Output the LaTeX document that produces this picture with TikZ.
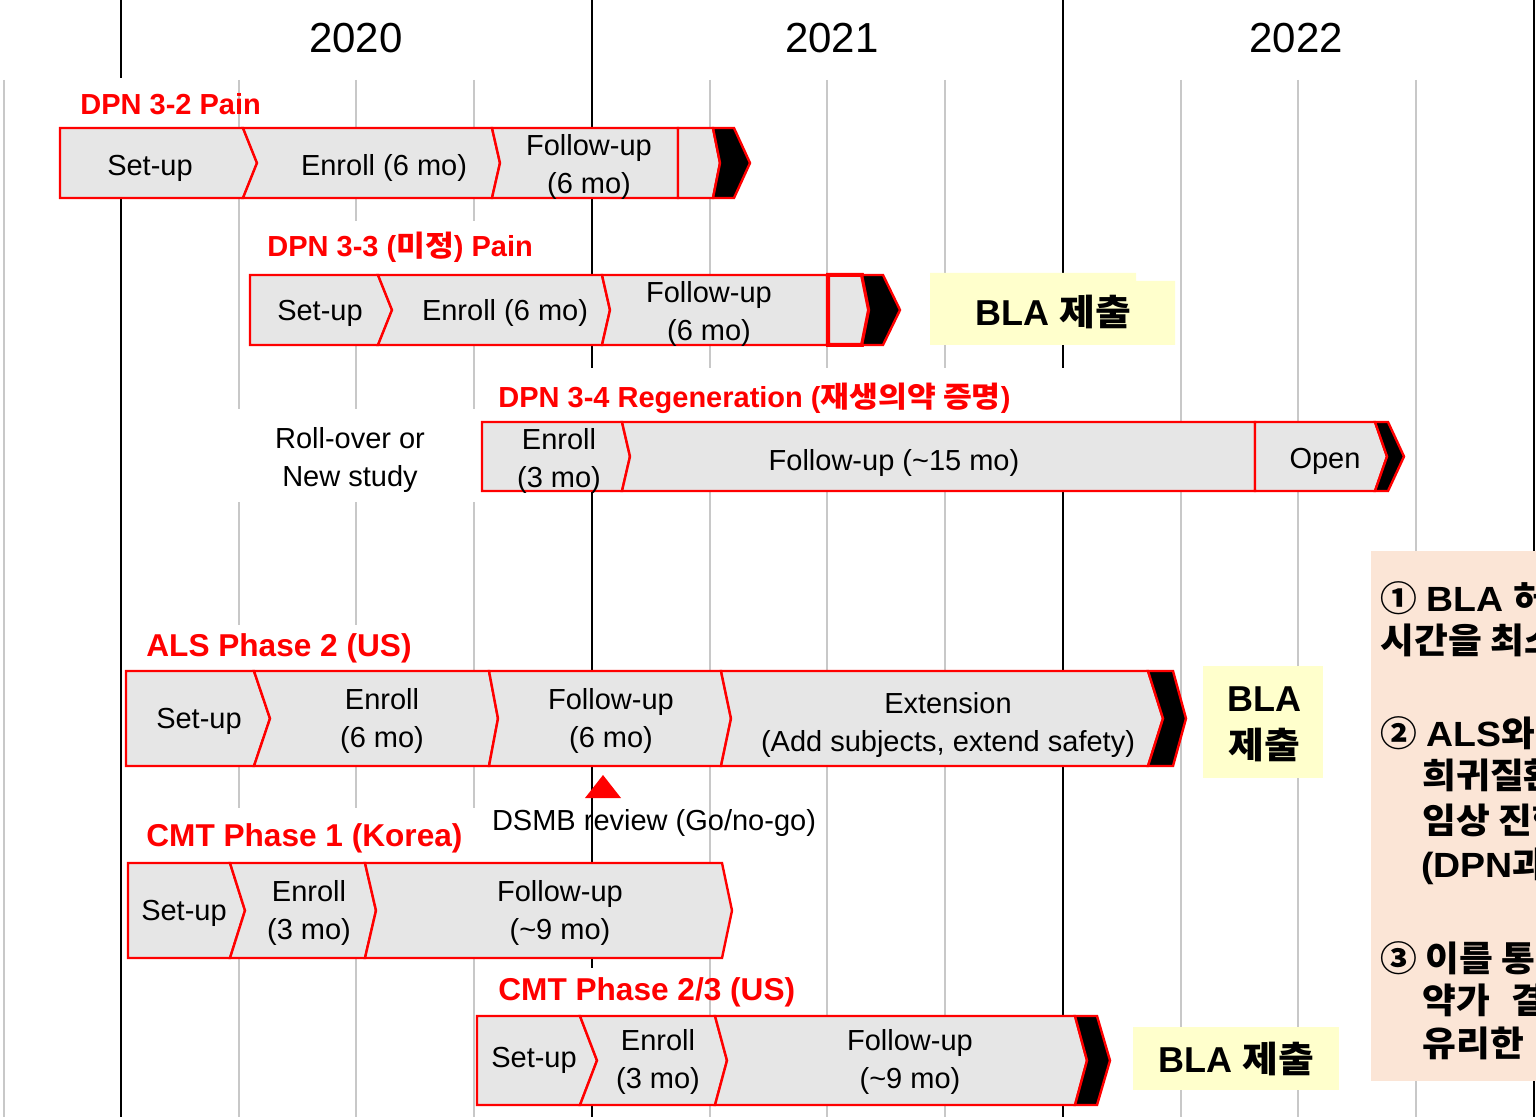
\documentclass[tikz,border=0pt]{standalone}
\usepackage{fontspec}
\setmainfont{Liberation Sans}
\newfontfamily\kr{Noto Sans CJK KR}[FakeStretch=1.08]
\newfontfamily\krn{Noto Sans CJK KR}[FakeStretch=1.05]
\newfontfamily\notelat{Liberation Sans}[FakeStretch=1.07]
\definecolor{barfill}{HTML}{E6E6E6}
\definecolor{gridgray}{HTML}{C8C8C8}
\definecolor{blayellow}{HTML}{FFFFCC}
\definecolor{peach}{HTML}{FBE5D6}
\definecolor{barred}{HTML}{FF0000}
% \seg[style]{T}{M}{B}{xl}{dl}{xr}{dr}
\newcommand\seg[8][segbox]{\draw[#1] (#5,#2) -- (#7,#2) -- ({#7+#8},#3) -- (#7,#4) -- (#5,#4) -- ({#5+#6},#3) -- cycle;}
\begin{document}
\begin{tikzpicture}[x=0.5pt,y=-0.5pt,
  segbox/.style={fill=barfill,draw=barred,line width=1.2pt,line join=miter},
  thickbox/.style={fill=barfill,draw=barred,line width=2pt,line join=miter},
  blackbox/.style={fill=black,draw=barred,line width=1.2pt,line join=miter},
  gridline/.style={draw=gridgray,line width=0.6pt},
  yearline/.style={draw=black,line width=0.7pt},
  mask/.style={fill=white,draw=none},
  txt/.style={font=\fontsize{14.5}{18.7}\selectfont,align=center,inner sep=0pt,yshift=-1.5pt},
  lbl/.style={font=\fontsize{14.5}{17}\selectfont\bfseries,text=barred,anchor=west,inner sep=0pt},
  lblbig/.style={font=\fontsize{15.8}{18}\selectfont\bfseries,text=barred,anchor=west,inner sep=0pt},
  year/.style={font=\fontsize{21}{24}\selectfont,inner sep=0pt},
  blabox/.style={fill=blayellow,draw=none},
  blatxt/.style={font=\fontsize{18}{23.5}\selectfont\bfseries,align=center,inner sep=0pt},
  note/.style={font=\fontsize{17.5}{21}\selectfont\bfseries,anchor=west,inner sep=0pt}
]
\useasboundingbox (0,0) rectangle (1536,1117);
\clip (0,0) rectangle (1536,1117);
\fill[white] (0,0) rectangle (1536,1117);

% grid
\foreach \gx in {4,239,356,474,710,827,945,1181,1298,1416}
  \draw[gridline] (\gx,80) -- (\gx,1117);
\draw[yearline] (121,0) -- (121,1117);
\foreach \gx in {592,1063,1534}
  \draw[yearline] (\gx,0) -- (\gx,1117);

% label backgrounds
\fill[mask] (66,78) rectangle (230,127);
\fill[mask] (250,221) rectangle (545,274);
\fill[mask] (487,368) rectangle (1130,421);
\fill[mask] (228,409) rectangle (479,502);
\fill[mask] (138,625) rectangle (425,670);
\fill[mask] (138,808) rectangle (480,862);
\fill[mask] (488,968) rectangle (700,1015);

% year labels
\node[year] (y20) at (356,38) {2020};
\node[year] (y21) at (832,38) {2021};
\node[year] (y22) at (1296,38) {2022};

% Row 1: DPN 3-2
\node[lbl] (l1) at (80,104) {DPN 3-2 Pain};
\seg{128}{163}{198}{60}{0}{243}{14}
\seg{128}{163}{198}{243}{14}{492}{8}
\seg{128}{163}{198}{492}{8}{678}{0}
\seg{128}{163}{198}{678}{0}{713}{7}
\seg[blackbox]{128}{163}{198}{713}{7}{734}{16}
\node[txt] (r1a) at (150,165) {Set-up};
\node[txt] (r1b) at (384,165) {Enroll (6 mo)};
\node[txt] (r1c) at (589,164) {Follow-up\\(6 mo)};

% Row 2: DPN 3-3
\node[lbl] (l2) at (267,247) {DPN 3-3 ({\kr 미정}) Pain};
\seg{275}{310}{345}{250}{0}{378}{14}
\seg{275}{310}{345}{378}{14}{602}{8}
\seg{275}{310}{345}{602}{8}{827}{0}
\seg[thickbox]{275}{310}{345}{828}{0}{862}{7}
\seg[blackbox]{275}{310}{345}{862}{7}{883}{17}
\node[txt] (r2a) at (320,310) {Set-up};
\node[txt] (r2b) at (505,310) {Enroll (6 mo)};
\node[txt] (r2c) at (709,311) {Follow-up\\(6 mo)};
\fill[blabox] (930,273) -- (1136,273) -- (1136,281) -- (1175,281) -- (1175,345) -- (930,345) -- cycle;
\node[blatxt] (b2) at (1053,312) {BLA {\kr 제출}};

% Row 3: DPN 3-4
\node[lbl] (l3) at (498,398) {DPN 3-4 Regeneration ({\kr 재생의약 증명})};
\node[txt] (ro) at (350,457) {Roll-over or\\New study};
\seg{422}{456.5}{491}{482}{0}{622}{8}
\seg{422}{456.5}{491}{622}{8}{1255}{0}
\seg{422}{456.5}{491}{1255}{0}{1375}{12}
\seg[blackbox]{422}{456.5}{491}{1375}{12}{1388}{16}
\node[txt] (r3a) at (559,458) {Enroll\\(3 mo)};
\node[txt] (r3b) at (894,460) {Follow-up (\textasciitilde15 mo)};
\node[txt] (r3c) at (1325,458) {Open};

% Row 4: ALS Phase 2
\node[lblbig] (l4) at (146,648) {ALS Phase 2 (US)};
\seg{671}{718.5}{766}{126}{0}{254}{16}
\seg{671}{718.5}{766}{254}{16}{489}{9}
\seg{671}{718.5}{766}{489}{9}{721}{10}
\seg{671}{718.5}{766}{721}{10}{1148}{15}
\seg[blackbox]{671}{718.5}{766}{1148}{15}{1173}{13}
\node[txt] (r4a) at (199,718) {Set-up};
\node[txt] (r4b) at (382,718) {Enroll\\(6 mo)};
\node[txt] (r4c) at (611,718) {Follow-up\\(6 mo)};
\node[txt] (r4d) at (948,722) {Extension\\(Add subjects, extend safety)};
\fill[blabox] (1203,666) rectangle (1323,778);
\node[blatxt] (b4) at (1264,724) {BLA\\{\kr 제출}};
\fill[barred] (603,775) -- (621,798) -- (585,798) -- cycle;
\node[txt] (dsmb) at (654,820) {DSMB review (Go/no-go)};

% Row 5: CMT Phase 1
\node[lblbig] (l5) at (146,838) {CMT Phase 1 (Korea)};
\seg{863}{910.5}{958}{128}{0}{230}{15}
\seg{863}{910.5}{958}{230}{15}{365}{11}
\seg{863}{910.5}{958}{365}{11}{722}{10}
\node[txt] (r5a) at (184,910) {Set-up};
\node[txt] (r5b) at (309,910) {Enroll\\(3 mo)};
\node[txt] (r5c) at (560,910) {Follow-up\\(\textasciitilde9 mo)};

% Row 6: CMT Phase 2/3
\node[lblbig] (l6) at (498,992) {CMT Phase 2/3 (US)};
\seg{1016}{1060.5}{1105}{477}{0}{580}{17}
\seg{1016}{1060.5}{1105}{580}{17}{715}{12}
\seg{1016}{1060.5}{1105}{715}{12}{1075}{12}
\seg[blackbox]{1016}{1060.5}{1105}{1075}{12}{1097}{13}
\node[txt] (r6a) at (534,1057) {Set-up};
\node[txt] (r6b) at (658,1059) {Enroll\\(3 mo)};
\node[txt] (r6c) at (910,1059) {Follow-up\\(\textasciitilde9 mo)};
\fill[blabox] (1133,1027) rectangle (1339,1090);
\node[blatxt] (b6) at (1236,1059) {BLA {\kr 제출}};

% right note box
\fill[peach] (1371,551) rectangle (1545,1081);
\node[note] (n1) at (1380,598) {{\krn ①} {\notelat BLA} {\krn 허가}};
\node[note] (n2) at (1380,640) {\krn 시간을 최소화};
\node[note] (n3) at (1380,733) {{\krn ②} {\notelat ALS}{\krn 와}};
\node[note] (n4) at (1422,775) {\krn 희귀질환};
\node[note] (n5) at (1422,820) {\krn 임상 진행};
\node[note] (n6) at (1421,866) {{\notelat (DPN}{\krn 과}};
\node[note] (n7) at (1380,958) {\krn ③ 이를 통해};
\node[note] (n8) at (1422,1000) {\krn 약가\hskip0.6em 결정};
\node[note] (n9) at (1422,1043) {\krn 유리한};
\end{tikzpicture}
\end{document}
